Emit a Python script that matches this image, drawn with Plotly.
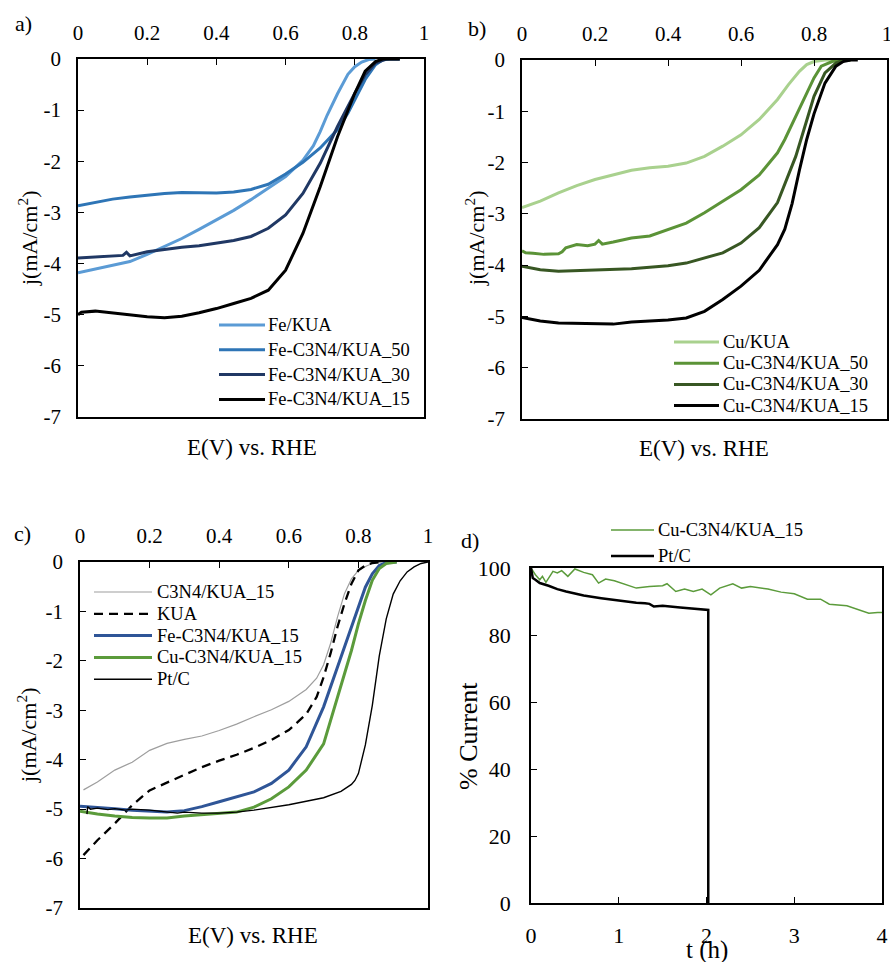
import plotly.graph_objects as go

W, H = 890, 962
FONT = "Liberation Serif, Times New Roman, serif"

# ---------------- data ----------------
# panel a
E_fe_kua = [0, 0.05, 0.1, 0.15, 0.2, 0.25, 0.3, 0.35, 0.4, 0.45, 0.5, 0.55, 0.6, 0.65, 0.68, 0.7, 0.72, 0.75, 0.78, 0.8, 0.82, 0.84, 0.86]
j_fe_kua = [-4.18, -4.11, -4.04, -3.96, -3.82, -3.67, -3.51, -3.33, -3.15, -2.96, -2.75, -2.53, -2.30, -1.98, -1.70, -1.42, -1.10, -0.68, -0.30, -0.15, -0.06, -0.01, 0]
E_fe50 = [0, 0.05, 0.1, 0.15, 0.2, 0.25, 0.3, 0.35, 0.4, 0.45, 0.5, 0.55, 0.6, 0.65, 0.7, 0.75, 0.78, 0.8, 0.83, 0.86, 0.88, 0.9, 0.93]
j_fe50 = [-2.87, -2.80, -2.74, -2.70, -2.66, -2.63, -2.61, -2.61, -2.62, -2.60, -2.55, -2.45, -2.25, -2.02, -1.74, -1.38, -1.06, -0.80, -0.40, -0.11, -0.02, 0, 0]
E_fe30 = [0, 0.03, 0.06, 0.1, 0.13, 0.14, 0.15, 0.2, 0.25, 0.3, 0.35, 0.4, 0.45, 0.5, 0.55, 0.6, 0.65, 0.7, 0.75, 0.8, 0.83, 0.86, 0.89, 0.93]
j_fe30 = [-3.89, -3.88, -3.87, -3.86, -3.84, -3.78, -3.85, -3.77, -3.72, -3.68, -3.65, -3.60, -3.55, -3.47, -3.31, -3.05, -2.63, -2.04, -1.32, -0.67, -0.31, -0.08, 0, 0]
E_fe15 = [0, 0.01, 0.05, 0.1, 0.15, 0.2, 0.25, 0.3, 0.35, 0.4, 0.45, 0.5, 0.55, 0.6, 0.65, 0.7, 0.75, 0.8, 0.83, 0.86, 0.88, 0.93]
j_fe15 = [-5.0, -4.95, -4.93, -4.97, -5.01, -5.04, -5.06, -5.03, -4.96, -4.88, -4.78, -4.68, -4.52, -4.13, -3.41, -2.50, -1.52, -0.67, -0.24, -0.05, 0, 0]

# panel b
E_cu_kua = [0, 0.05, 0.1, 0.15, 0.2, 0.25, 0.3, 0.35, 0.4, 0.45, 0.5, 0.55, 0.6, 0.65, 0.7, 0.73, 0.76, 0.78, 0.8, 0.83, 0.88]
j_cu_kua = [-2.88, -2.75, -2.59, -2.45, -2.33, -2.24, -2.15, -2.10, -2.07, -2.01, -1.88, -1.68, -1.46, -1.16, -0.77, -0.48, -0.22, -0.09, -0.03, 0, 0]
E_cu50 = [0, 0.01, 0.03, 0.06, 0.1, 0.11, 0.12, 0.15, 0.18, 0.2, 0.21, 0.22, 0.25, 0.3, 0.35, 0.4, 0.45, 0.5, 0.55, 0.6, 0.65, 0.7, 0.72, 0.75, 0.78, 0.8, 0.82, 0.85, 0.87, 0.9]
j_cu50 = [-3.72, -3.76, -3.77, -3.79, -3.78, -3.74, -3.66, -3.60, -3.62, -3.59, -3.52, -3.59, -3.55, -3.47, -3.43, -3.31, -3.18, -2.98, -2.75, -2.53, -2.24, -1.81, -1.55, -1.10, -0.64, -0.35, -0.12, -0.03, 0, 0]
E_cu30 = [0, 0.05, 0.1, 0.15, 0.2, 0.25, 0.3, 0.35, 0.4, 0.45, 0.5, 0.55, 0.6, 0.65, 0.7, 0.75, 0.78, 0.8, 0.83, 0.86, 0.88, 0.9]
j_cu30 = [-4.02, -4.09, -4.12, -4.11, -4.10, -4.09, -4.07, -4.04, -4.01, -3.96, -3.86, -3.76, -3.57, -3.27, -2.78, -1.88, -1.18, -0.71, -0.25, -0.06, 0, 0]
E_cu15 = [0, 0.05, 0.1, 0.15, 0.2, 0.25, 0.3, 0.35, 0.4, 0.45, 0.5, 0.55, 0.6, 0.65, 0.7, 0.72, 0.74, 0.76, 0.78, 0.8, 0.83, 0.86, 0.88, 0.9, 0.92]
j_cu15 = [-5.02, -5.09, -5.13, -5.14, -5.15, -5.15, -5.11, -5.09, -5.07, -5.03, -4.90, -4.67, -4.41, -4.10, -3.60, -3.30, -2.80, -2.15, -1.55, -1.05, -0.45, -0.12, -0.03, 0, 0]

# panel c
E_c3n4 = [0.01, 0.05, 0.1, 0.12, 0.15, 0.2, 0.25, 0.3, 0.35, 0.4, 0.45, 0.5, 0.55, 0.6, 0.65, 0.68, 0.7, 0.72, 0.74, 0.76, 0.78, 0.8, 0.82, 0.84, 0.87]
j_c3n4 = [-4.61, -4.45, -4.21, -4.14, -4.05, -3.81, -3.67, -3.59, -3.52, -3.41, -3.28, -3.13, -2.99, -2.82, -2.58, -2.35, -2.08, -1.65, -1.11, -0.64, -0.34, -0.17, -0.09, -0.03, 0]
E_kua = [0.01, 0.05, 0.1, 0.15, 0.2, 0.25, 0.3, 0.35, 0.4, 0.45, 0.5, 0.55, 0.6, 0.65, 0.68, 0.7, 0.72, 0.74, 0.76, 0.78, 0.8, 0.82, 0.84, 0.87]
j_kua = [-5.93, -5.63, -5.29, -4.92, -4.62, -4.46, -4.30, -4.15, -4.02, -3.90, -3.76, -3.60, -3.40, -3.08, -2.73, -2.33, -1.85, -1.31, -0.84, -0.44, -0.17, -0.07, -0.02, 0]
E_fe15c = [0, 0.05, 0.1, 0.15, 0.2, 0.25, 0.3, 0.35, 0.4, 0.45, 0.5, 0.55, 0.6, 0.65, 0.7, 0.75, 0.78, 0.8, 0.82, 0.84, 0.86, 0.88, 0.91]
j_fe15c = [-4.94, -4.96, -4.99, -5.02, -5.04, -5.06, -5.03, -4.95, -4.85, -4.75, -4.65, -4.48, -4.21, -3.74, -2.93, -1.92, -1.31, -0.91, -0.51, -0.24, -0.07, -0.01, 0]
E_cu15c = [0, 0.05, 0.1, 0.15, 0.2, 0.25, 0.3, 0.35, 0.4, 0.45, 0.5, 0.55, 0.6, 0.65, 0.7, 0.75, 0.78, 0.8, 0.82, 0.84, 0.86, 0.88, 0.91]
j_cu15c = [-5.04, -5.10, -5.14, -5.17, -5.18, -5.18, -5.14, -5.11, -5.09, -5.06, -4.96, -4.79, -4.55, -4.21, -3.68, -2.53, -1.79, -1.25, -0.78, -0.37, -0.13, -0.03, 0]
E_ptc = [0.02, 0.022, 0.03, 0.05, 0.08, 0.1, 0.13, 0.15, 0.2, 0.25, 0.28, 0.3, 0.35, 0.4, 0.45, 0.5, 0.55, 0.6, 0.65, 0.7, 0.75, 0.78, 0.79, 0.8, 0.82, 0.84, 0.86, 0.88, 0.9, 0.92, 0.94, 0.96, 0.98, 1.0]
j_ptc = [-5.1, -4.95, -5.0, -4.98, -5.01, -4.99, -5.02, -5.0, -5.02, -5.05, -5.08, -5.06, -5.08, -5.08, -5.06, -5.02, -4.97, -4.91, -4.84, -4.77, -4.64, -4.5, -4.42, -4.28, -3.7, -2.9, -1.9, -1.15, -0.65, -0.38, -0.2, -0.1, -0.03, 0]

# panel d
t_cu = [0, 0.05, 0.1, 0.13, 0.17, 0.25, 0.3, 0.35, 0.42, 0.5, 0.6, 0.7, 0.77, 0.85, 0.95, 1.05, 1.2, 1.35, 1.5, 1.55, 1.65, 1.75, 1.85, 1.95, 2.05, 2.15, 2.3, 2.4, 2.5, 2.7, 2.85, 3.0, 3.15, 3.3, 3.4, 3.6, 3.75, 3.85, 3.95, 4.0]
pct_cu = [100, 98, 96.5, 97.5, 95.7, 99, 98.5, 99.2, 97.5, 99.7, 98.7, 98, 95.5, 96.7, 96.2, 95.3, 94, 94.5, 94.7, 95.3, 93, 93.7, 93, 93.7, 92, 94, 95.3, 94, 94.5, 93.7, 92.8, 92.3, 90.7, 90.7, 89.2, 88.7, 87.5, 86.5, 86.7, 86.7]
t_pt = [0, 0.02, 0.05, 0.1, 0.2, 0.3, 0.4, 0.5, 0.6, 0.8, 1.0, 1.2, 1.3, 1.35, 1.4, 1.5, 1.7, 1.9, 2.02, 2.02]
pct_pt = [100, 97, 96.5, 95.5, 94.7, 93.7, 93.0, 92.4, 91.8, 91.0, 90.2, 89.6, 89.5, 89.3, 88.5, 88.7, 88.2, 87.8, 87.5, 0]

j_ticks = [0, -1, -2, -3, -4, -5, -6, -7]
E_ticks = [0, 0.2, 0.4, 0.6, 0.8, 1]
t_ticks = [0, 1, 2, 3, 4]
pct_ticks = [0, 20, 40, 60, 80, 100]

# ---------------- helpers ----------------
def px(x):
    return x / W

def py(y):
    return 1 - y / H

fig = go.Figure()

series = [
    # (panel, x, y, name, color, width, dash)
    ("a", E_fe_kua, j_fe_kua, "Fe/KUA", "#5B9BD5", 3, "solid"),
    ("a", E_fe50, j_fe50, "Fe-C3N4/KUA_50", "#2E75B6", 3, "solid"),
    ("a", E_fe30, j_fe30, "Fe-C3N4/KUA_30", "#203864", 3, "solid"),
    ("a", E_fe15, j_fe15, "Fe-C3N4/KUA_15", "#000000", 3, "solid"),
    ("b", E_cu_kua, j_cu_kua, "Cu/KUA", "#A9D18E", 3, "solid"),
    ("b", E_cu50, j_cu50, "Cu-C3N4/KUA_50", "#5B9337", 3, "solid"),
    ("b", E_cu30, j_cu30, "Cu-C3N4/KUA_30", "#385723", 3, "solid"),
    ("b", E_cu15, j_cu15, "Cu-C3N4/KUA_15", "#000000", 3, "solid"),
    ("c", E_c3n4, j_c3n4, "C3N4/KUA_15", "#9E9E9E", 1.2, "solid"),
    ("c", E_kua, j_kua, "KUA", "#000000", 2.3, "9px,6px"),
    ("c", E_fe15c, j_fe15c, "Fe-C3N4/KUA_15", "#2F5597", 3, "solid"),
    ("c", E_cu15c, j_cu15c, "Cu-C3N4/KUA_15", "#5B9B3B", 3, "solid"),
    ("c", E_ptc, j_ptc, "Pt/C", "#000000", 1.4, "solid"),
    ("d", t_cu, pct_cu, "Cu-C3N4/KUA_15", "#5B9B3B", 1.5, "solid"),
    ("d", t_pt, pct_pt, "Pt/C", "#000000", 2.5, "solid"),
]
axmap = {"a": ("x", "y"), "b": ("x2", "y2"), "c": ("x3", "y3"), "d": ("x4", "y4")}

for p, xs, ys, name, col, lw, dash in series:
    xa, ya = axmap[p]
    fig.add_trace(go.Scatter(x=xs, y=ys, mode="lines", name=name, xaxis=xa, yaxis=ya,
                             line=dict(color=col, width=lw, dash=dash), showlegend=False))

# ---------------- axes ----------------
box = dict(showline=True, mirror=True, linecolor="black", linewidth=1.5, showgrid=False,
           zeroline=False, ticks="inside", ticklen=6, tickcolor="black", tickwidth=1.2,
           automargin=False, ticklabeloverflow="allow")

TICKF = dict(family=FONT, size=21, color="black")
TICKF_D = dict(family=FONT, size=22, color="black")

def E_axis(dom, anchor):
    return dict(box, domain=dom, anchor=anchor, range=[0, 1], side="top",
                tickvals=E_ticks, ticktext=[f"{v:g}" for v in E_ticks],
                tickfont=TICKF, ticklabelstandoff=9)

def j_axis(dom, anchor):
    return dict(box, domain=dom, anchor=anchor, range=[-7, 0],
                tickvals=j_ticks, ticktext=[str(v) for v in j_ticks],
                tickfont=TICKF, ticklabelstandoff=11)

fig.update_layout(
    xaxis=E_axis([px(78), px(424)], "y"),
    yaxis=j_axis([py(417), py(59)], "x"),
    xaxis2=E_axis([px(522), px(887)], "y2"),
    yaxis2=j_axis([py(419), py(60)], "x2"),
    xaxis3=E_axis([px(80), px(428)], "y3"),
    yaxis3=j_axis([py(908), py(562)], "x3"),
    xaxis4=dict(box, domain=[px(531), px(882)], anchor="y4", range=[0, 4],
                tickvals=t_ticks, ticktext=[str(v) for v in t_ticks],
                tickfont=TICKF_D, ticklabelstandoff=12),
    yaxis4=dict(box, domain=[py(903), py(568)], anchor="x4", range=[0, 100],
                tickvals=pct_ticks, ticktext=[str(v) for v in pct_ticks],
                tickfont=TICKF_D, ticklabelstandoff=14),
)

# ---------------- titles / labels ----------------
ann = []
def txt(x, y, s, size, angle=0, xanchor="center"):
    ann.append(dict(x=px(x), y=py(y), xref="paper", yref="paper", text=s, showarrow=False,
                    textangle=angle, xanchor=xanchor, yanchor="middle",
                    font=dict(family=FONT, size=size, color="black")))

txt(252, 447, "E(V) vs. RHE", 23)
txt(704, 448, "E(V) vs. RHE", 23)
txt(253, 935, "E(V) vs. RHE", 23)
txt(707, 950, "t (h)", 25)
txt(28, 239, "j(mA/cm<sup>2</sup>)", 22, -90)
txt(475, 239, "j(mA/cm<sup>2</sup>)", 22, -90)
txt(27, 736, "j(mA/cm<sup>2</sup>)", 22, -90)
txt(468, 736, "% Current", 26, -90)
txt(23, 23, "a)", 22)
txt(477, 28, "b)", 22)
txt(22, 533, "c)", 22)
txt(470, 540, "d)", 22)

# ---------------- legends (drawn as keys + labels) ----------------
legend_specs = {
    "a": dict(x0=219, x1=265, xt=266, y0=325, dy=24.8),
    "b": dict(x0=674, x1=719, xt=721, y0=342, dy=21.2),
    "c": dict(x0=94, x1=152, xt=155, y0=592, dy=21.8),
    "d": dict(x0=611, x1=654, xt=656, y0=530, dy=26),
}
shapes = []
counters = {k: 0 for k in legend_specs}
for p, xs, ys, name, col, lw, dash in series:
    spec = legend_specs[p]
    i = counters[p]
    counters[p] += 1
    yy = spec["y0"] + i * spec["dy"]
    shapes.append(dict(type="line", xref="paper", yref="paper",
                       x0=px(spec["x0"]), x1=px(spec["x1"]), y0=py(yy), y1=py(yy),
                       line=dict(color=col, width=lw, dash=dash)))
    txt(spec["xt"], yy, name, 18.5, xanchor="left")

fig.update_layout(
    width=W, height=H, margin=dict(l=0, r=0, t=0, b=0, pad=0, autoexpand=False),
    paper_bgcolor="white", plot_bgcolor="white",
    annotations=ann, shapes=shapes, showlegend=False,
    font=dict(family=FONT, color="black"),
)

fig.write_html("out.html", config={"displayModeBar": False},
               post_script="document.body.style.margin='0px';document.body.style.padding='0px';")
